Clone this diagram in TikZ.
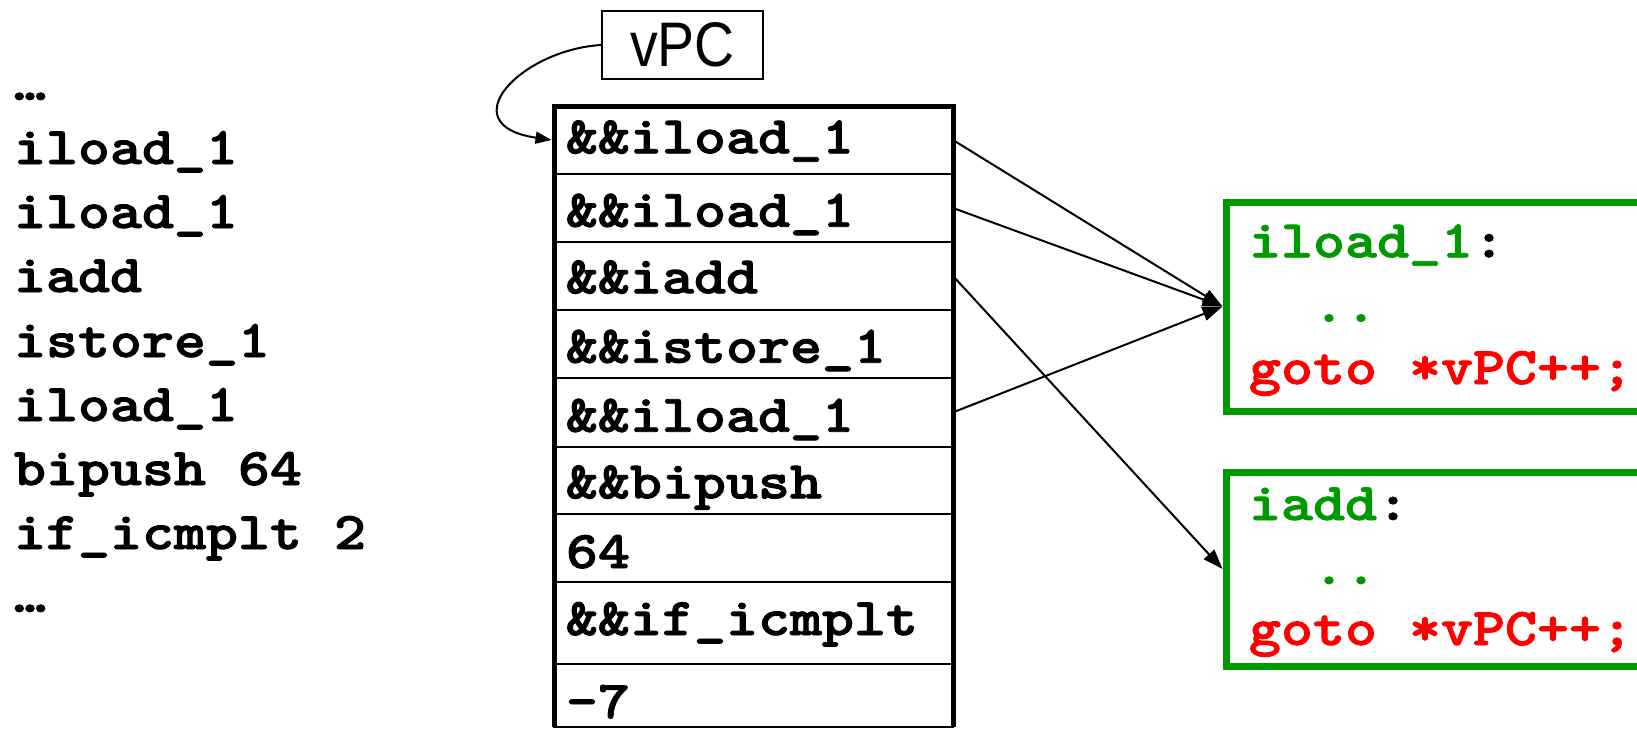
\documentclass[tikz,border=0pt]{standalone}
\usepackage{fontspec}
\newfontfamily\vpcfont{Liberation Sans}[FakeStretch=0.88]
\newfontfamily\monobold{lmmonolt10-bold.otf}[FakeBold=1.6]
\usetikzlibrary{arrows.meta}
\definecolor{codegreen}{RGB}{0,153,0}
\definecolor{codered}{RGB}{255,0,0}
\newcommand{\cfont}{\monobold\fontsize{53}{60}\selectfont}
\newcommand{\cw}[1]{\scalebox{1.15}[1]{#1}}

\begin{document}
\begin{tikzpicture}[x=1pt,y=-1pt,
  code/.style={font=\cfont, anchor=base west, inner sep=0pt, outer sep=0pt},
  cell/.style={draw, line width=2pt, minimum width=399pt, inner sep=0pt, outer sep=0pt},
  handler/.style={draw=codegreen, line width=7pt, minimum width=474pt, inner sep=0pt, outer sep=0pt},
  link/.style={line width=2pt, -{Triangle[length=20pt,width=14pt]}},
  pclink/.style={line width=2pt, -{Triangle[length=16pt,width=12pt]}},
]
\useasboundingbox (0,0) rectangle (1637,728);
\clip (0,0) rectangle (1637,728);

% bytecode listing
\node[code] (s0) at (14,100) {\cw{…}};
\node[code] (s1) at (14,164) {\cw{iload\_1}};
\node[code] (s2) at (14,228) {\cw{iload\_1}};
\node[code] (s3) at (14,292) {\cw{iadd}};
\node[code] (s4) at (14,357) {\cw{istore\_1}};
\node[code] (s5) at (14,421) {\cw{iload\_1}};
\node[code] (s6) at (14,485) {\cw{bipush 64}};
\node[code] (s7) at (14,549) {\cw{if\_icmplt 2}};
\node[code] (s8) at (14,612) {\cw{…}};

% threaded code array
\node[cell, minimum height=68pt]   (r1) at (753.5,140)    {};
\node[cell, minimum height=68pt]   (r2) at (753.5,208)    {};
\node[cell, minimum height=68pt]   (r3) at (753.5,276)    {};
\node[cell, minimum height=68pt]   (r4) at (753.5,344)    {};
\node[cell, minimum height=68.7pt] (r5) at (753.5,412.35) {};
\node[cell, minimum height=67.3pt] (r6) at (753.5,480.35) {};
\node[cell, minimum height=68.3pt] (r7) at (753.5,548.15) {};
\node[cell, minimum height=82pt]   (r8) at (753.5,623.3)  {};
\node[cell, minimum height=62.7pt] (r9) at (753.5,695.65) {};
\draw[line width=5pt] (r9.south west) |- (r1.north east) -- (r9.south east);

\node[code] (t1) at (566,153.3) {\cw{\&\&iload\_1}};
\node[code] (t2) at (566,226.7) {\cw{\&\&iload\_1}};
\node[code] (t3) at (566,293.3) {\cw{\&\&iadd}};
\node[code] (t4) at (566,362.7) {\cw{\&\&istore\_1}};
\node[code] (t5) at (566,431.7) {\cw{\&\&iload\_1}};
\node[code] (t6) at (566,498.3) {\cw{\&\&bipush}};
\node[code] (t7) at (566,568)   {\cw{64}};
\node[code] (t8) at (566,635)   {\cw{\&\&if\_icmplt}};
\node[code] (t9) at (566,718)   {\cw{-7}};

% virtual program counter
\node[draw, line width=2pt, minimum width=161pt, minimum height=68pt, inner sep=0pt,
      font=\vpcfont\fontsize{63}{70}\selectfont] (vpc) at (682.5,45) {vPC};
\draw[pclink] (vpc.west) .. controls (520,50) and (450,125) .. ([xshift=-2.5pt]r1.west);

% instruction handlers
\node[handler, minimum height=209pt] (g1) at (1463,306.5) {};
\node[handler, minimum height=194pt] (g2) at (1463,569)   {};

\node[code] (h1a) at (1249,257.3) {\cw{\textcolor{codegreen}{iload\_1}:}};
\node[code, text=codegreen] (h1b) at (1249,321.7) {\cw{\phantom{ii}..}};
\node[code, text=codered]   (h1c) at (1249,384)   {\cw{goto *vPC++;}};
\node[code] (h2a) at (1249,520) {\cw{\textcolor{codegreen}{iadd}:}};
\node[code, text=codegreen] (h2b) at (1249,584) {\cw{\phantom{ii}..}};
\node[code, text=codered]   (h2c) at (1249,645) {\cw{goto *vPC++;}};

% dispatch targets
\draw[link] (r1.east) -- ([xshift=-3.5pt]g1.west);
\draw[link] (r2.east) -- ([xshift=-3.5pt]g1.west);
\draw[link] (r5.east) -- ([xshift=-3.5pt]g1.west);
\draw[link] (r3.east) -- ([xshift=-3.5pt]g2.west);
\end{tikzpicture}
\end{document}
